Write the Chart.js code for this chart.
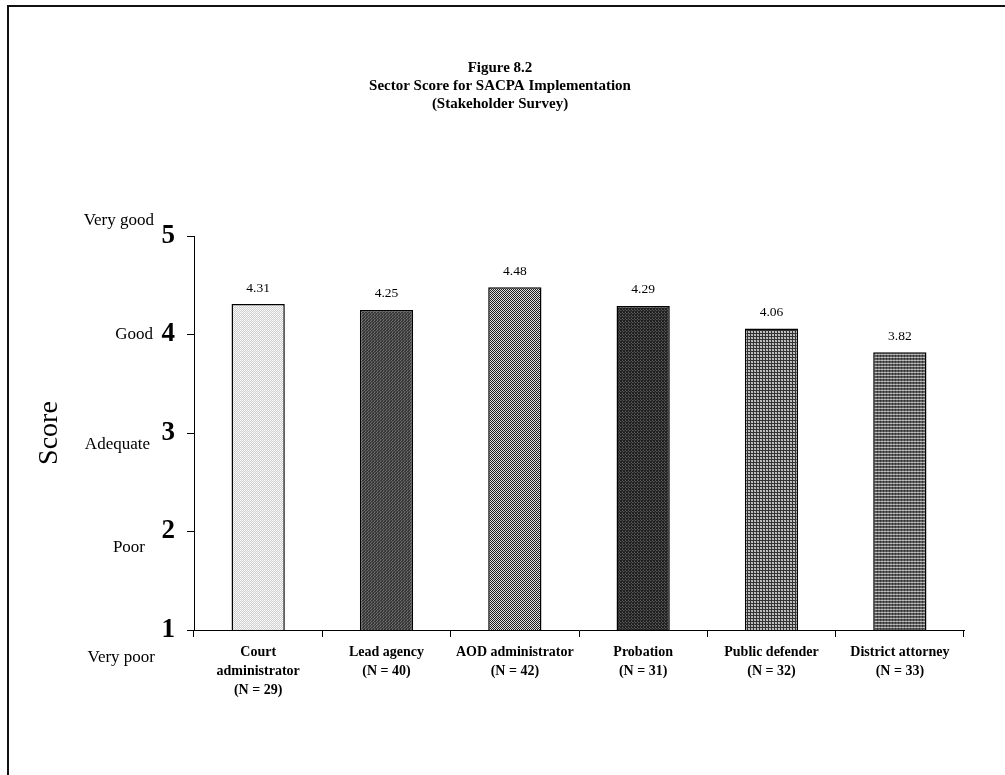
<!DOCTYPE html>
<html>
<head>
<meta charset="utf-8">
<script src="https://cdn.jsdelivr.net/npm/chart.js@4.4.1/dist/chart.umd.min.js"></script>
<style>
  html, body { margin: 0; padding: 0; background: #ffffff; }
  #wrap { width: 1005px; height: 775px; }
</style>
</head>
<body>
<div id="wrap"><canvas id="c" width="1005" height="775"></canvas></div>
<script>
// ---- Data ----
const titleLines = ['Figure 8.2', 'Sector Score for SACPA Implementation', '(Stakeholder Survey)'];
const categories = [
  ['Court', 'administrator', '(N = 29)'],
  ['Lead agency', '(N = 40)'],
  ['AOD administrator', '(N = 42)'],
  ['Probation', '(N = 31)'],
  ['Public defender', '(N = 32)'],
  ['District attorney', '(N = 33)']
];
const scores = [4.31, 4.25, 4.48, 4.29, 4.06, 3.82];
const yTicks = [1, 2, 3, 4, 5];
const scoreWords = ['Very poor', 'Poor', 'Adequate', 'Good', 'Very good'];
const yAxisTitle = 'Score';

// ---- Fill patterns ----
function makePattern(rows) {
  const h = rows.length, w = rows[0].length;
  const c = document.createElement('canvas');
  c.width = w; c.height = h;
  const x = c.getContext('2d');
  for (let j = 0; j < h; j++) for (let i = 0; i < w; i++) {
    x.fillStyle = rows[j][i]; x.fillRect(i, j, 1, 1);
  }
  return x.createPattern(c, 'repeat');
}
const patterns = [
  makePattern([['#ffffff', '#cfcfcf'], ['#cfcfcf', '#f4f4f4']]),
  makePattern([['#363636', '#707070', '#363636'], ['#555555', '#363636', '#555555'], ['#363636', '#363636', '#707070']]),
  makePattern([['#1e1e1e', '#e0e0e0'], ['#e0e0e0', '#1e1e1e']]),
  makePattern([['#202020', '#5a5a5a', '#202020'], ['#383838', '#202020', '#5a5a5a'], ['#202020', '#383838', '#202020']]),
  makePattern([['#333333', '#333333', '#333333'], ['#333333', '#c8c8c8', '#b0b0b0'], ['#333333', '#b0b0b0', '#c8c8c8']]),
  makePattern([['#bcbcbc', '#999999', '#bcbcbc'], ['#555555', '#333333', '#555555'], ['#666666', '#3a3a3a', '#666666']])
];

const SERIF = '"Liberation Serif", "Times New Roman", serif';

const decorPlugin = {
  id: 'decor',
  beforeDraw(chart) {
    const c = chart.ctx;
    c.save();
    c.fillStyle = '#ffffff';
    c.fillRect(0, 0, chart.width, chart.height);
    c.strokeStyle = '#111111';
    c.lineWidth = 2;
    c.beginPath();
    c.moveTo(8, 775); c.lineTo(8, 6); c.lineTo(1005, 6);
    c.stroke();
    c.restore();
  },
  afterDraw(chart) {
    const c = chart.ctx;
    const y = chart.scales.y;
    c.save();
    c.fillStyle = '#000000';
    // Title
    c.font = 'bold 15px ' + SERIF;
    c.textAlign = 'center';
    c.textBaseline = 'middle';
    titleLines.forEach((t, i) => c.fillText(t, 500, 68 + i * 18));
    // Axis title
    c.save();
    c.translate(50, (chart.chartArea.top + chart.chartArea.bottom) / 2);
    c.rotate(-Math.PI / 2);
    c.font = '28px ' + SERIF;
    c.fillText(yAxisTitle, 0, 0);
    c.restore();
    // Score words
    const offs = [28, 16, 12, 0, -15];
    const rights = [155, 145, 150, 153, 154];
    c.font = '17px ' + SERIF;
    c.textAlign = 'right';
    yTicks.forEach((v, i) => {
      c.fillText(scoreWords[i], rights[i], y.getPixelForValue(v) + offs[i]);
    });
    // Data labels
    c.font = '13.5px ' + SERIF;
    c.textAlign = 'center';
    const meta = chart.getDatasetMeta(0);
    meta.data.forEach((bar, i) => {
      c.fillText(scores[i].toFixed(2), bar.x, bar.y - 16);
    });
    c.restore();
  }
};

new Chart(document.getElementById('c'), {
  type: 'bar',
  data: {
    labels: categories,
    datasets: [{
      data: scores,
      backgroundColor: patterns,
      borderColor: '#000000',
      borderWidth: 1.5,
      borderSkipped: 'bottom',
      barPercentage: 0.415,
      categoryPercentage: 1.0
    }]
  },
  options: {
    responsive: false,
    animation: false,
    devicePixelRatio: 1,
    layout: { padding: { left: 0, top: 236, right: 41, bottom: 0 } },
    plugins: { legend: { display: false }, title: { display: false }, tooltip: { enabled: false } },
    scales: {
      x: {
        grid: { display: true, drawOnChartArea: false, drawTicks: true, tickLength: 7, color: '#000000', offset: true },
        border: { display: true, color: '#000000', width: 1 },
        ticks: {
          color: '#000000',
          font: { family: SERIF, size: 14, weight: 'bold', lineHeight: 1.36 },
          padding: 6,
          maxRotation: 0, minRotation: 0, autoSkip: false
        },
        afterFit(s) { s.height = 145; s.paddingLeft = 0; s.paddingRight = 0; }
      },
      y: {
        min: 1, max: 5,
        afterBuildTicks(s) { s.ticks = yTicks.map(v => ({ value: v })); },
        grid: { display: true, drawOnChartArea: false, drawTicks: true, tickLength: 7, color: '#000000' },
        border: { display: true, color: '#000000', width: 1 },
        ticks: {
          color: '#000000',
          font: { family: SERIF, size: 27, weight: 'bold' },
          padding: 12,
          callback: v => String(v)
        },
        afterFit(s) { s.width = 194; s.paddingTop = 0; s.paddingBottom = 0; }
      }
    }
  },
  plugins: [decorPlugin]
});
</script>
</body>
</html>
